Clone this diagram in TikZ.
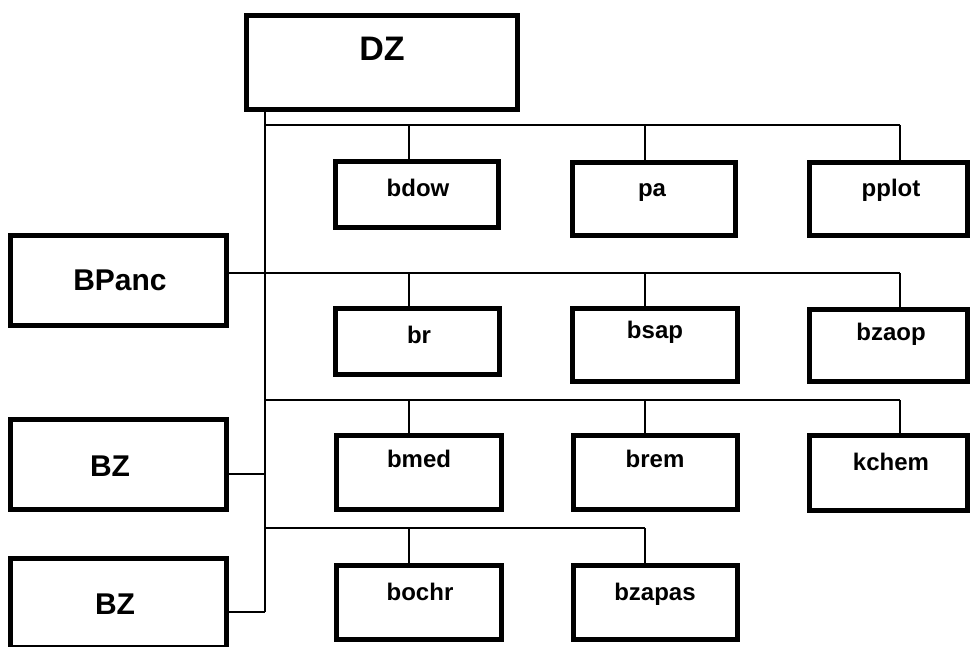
\documentclass[tikz,border=0pt]{standalone}
\usepackage{fontspec}
\setmainfont{Liberation Sans}
\begin{document}
\begin{tikzpicture}[x=0.5pt,y=-0.5pt,
  box/.style={draw=black,line width=2.5pt,inner sep=0pt,fill=white},
  wire/.style={draw=black,line width=0.75pt},
  lbl/.style={anchor=base,inner sep=0pt,font=\bfseries\fontsize{12}{14}\selectfont},
  biglbl/.style={anchor=base,inner sep=0pt,font=\bfseries\fontsize{15}{17}\selectfont},
  toplbl/.style={anchor=base,inner sep=0pt,font=\bfseries\fontsize{17}{19}\selectfont}]
\useasboundingbox (0,0) rectangle (970,647);
\clip (0,0) rectangle (970,647);
\fill[white] (0,0) rectangle (970,647);
% box macro: name, outer x1, y1, x2, y2
\newcommand\mybox[5]{\node[box,minimum width={(#4-#2-5)*0.5pt},minimum height={(#5-#3-5)*0.5pt}] (#1) at ({(#2+#4)/2},{(#3+#5)/2}) {};}
% junction coordinates
\coordinate (trunk) at (265,0);
\coordinate (r1) at (265,125);
\coordinate (r2) at (265,273);
\coordinate (r3) at (265,400);
\coordinate (r4) at (265,528);
\coordinate (c1) at (409,0);
\coordinate (c2) at (645,0);
\coordinate (c3) at (900,0);
\coordinate (z1) at (265,474);
\coordinate (z2) at (265,612);
% wires (drawn first, boxes on top)
\draw[wire] (trunk |- 0,110) -- (z2);
\draw[wire] (r1) -- (c3 |- r1);
\draw[wire] (229,273) -- (c3 |- r2);
\draw[wire] (r3) -- (c3 |- r3);
\draw[wire] (r4) -- (c2 |- r4);
\draw[wire] (c1 |- r1) -- (c1 |- 0,162);
\draw[wire] (c2 |- r1) -- (c2 |- 0,162);
\draw[wire] (c3 |- r1) -- (c3 |- 0,162);
\draw[wire] (c1 |- r2) -- (c1 |- 0,308);
\draw[wire] (c2 |- r2) -- (c2 |- 0,308);
\draw[wire] (c3 |- r2) -- (c3 |- 0,308);
\draw[wire] (c1 |- r3) -- (c1 |- 0,435);
\draw[wire] (c2 |- r3) -- (c2 |- 0,435);
\draw[wire] (c3 |- r3) -- (c3 |- 0,435);
\draw[wire] (c1 |- r4) -- (c1 |- 0,565);
\draw[wire] (c2 |- r4) -- (c2 |- 0,565);
\draw[wire] (227,474) -- (z1);
\draw[wire] (227,612) -- (z2);
% boxes
\mybox{DZ}{244}{13}{520}{112}
\mybox{BPanc}{8}{233}{229}{328}
\mybox{BZa}{8}{417}{229}{512}
\mybox{BZb}{8}{556}{229}{650}
\mybox{bdow}{333}{159}{501}{230}
\mybox{pa}{570}{160}{738}{238}
\mybox{pplot}{807}{160}{970}{238}
\mybox{br}{333}{306}{502}{377}
\mybox{bsap}{570}{306}{740}{384}
\mybox{bzaop}{807}{307}{970}{384}
\mybox{bmed}{334}{433}{504}{512}
\mybox{brem}{571}{433}{740}{512}
\mybox{kchem}{807}{433}{970}{513}
\mybox{bochr}{334}{563}{504}{642}
\mybox{bzapas}{571}{563}{740}{642}
% labels
\node[toplbl] (tDZ) at (382,61) {DZ};
\node[biglbl] (tBPanc) at (120,291) {BPanc};
\node[biglbl] (tBZa) at (110,476) {BZ};
\node[biglbl] (tBZb) at (115,614) {BZ};
\node[lbl] (tbdow) at (418,197) {bdow};
\node[lbl] (tpa) at (652,197) {pa};
\node[lbl] (tpplot) at (891,197) {pplot};
\node[lbl] (tbr) at (419,343) {br};
\node[lbl] (tbsap) at (655,338) {bsap};
\node[lbl] (tbzaop) at (891,340) {bzaop};
\node[lbl] (tbmed) at (419,467) {bmed};
\node[lbl] (tbrem) at (655,467) {brem};
\node[lbl] (tkchem) at (891,470) {kchem};
\node[lbl] (tbochr) at (420,600) {bochr};
\node[lbl] (tbzapas) at (655,600) {bzapas};
\end{tikzpicture}
\end{document}
